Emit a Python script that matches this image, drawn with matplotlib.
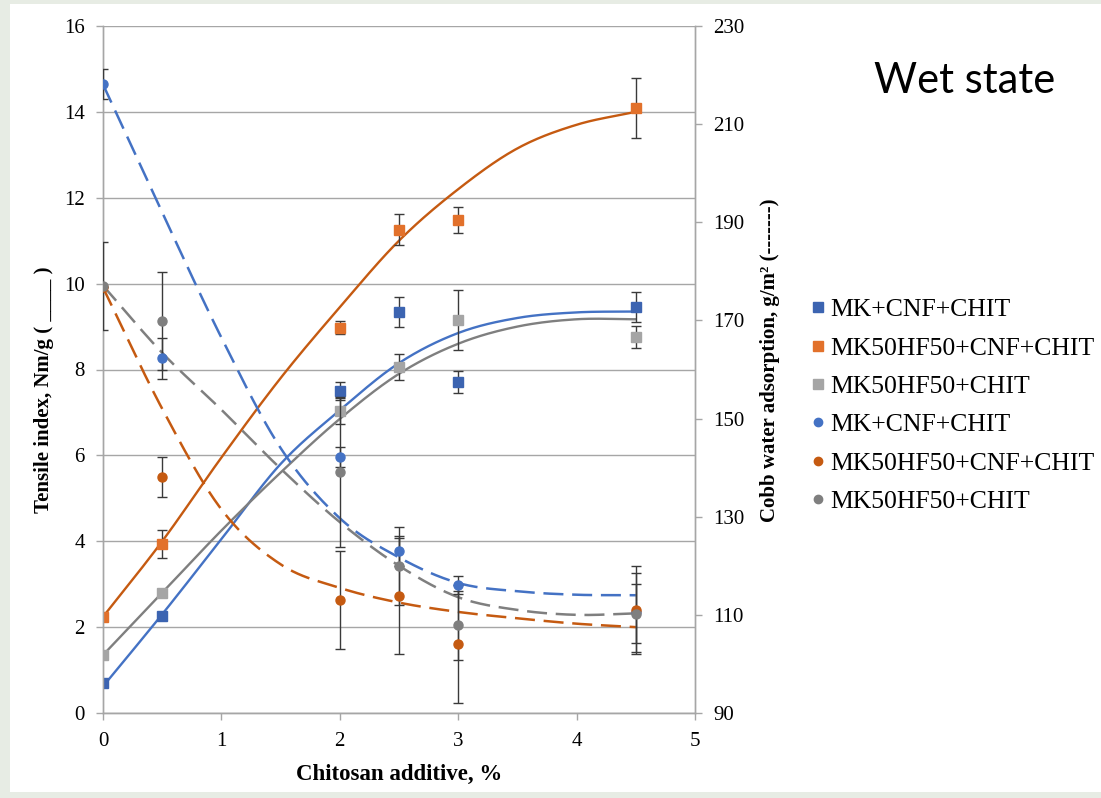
import numpy as np
import matplotlib
matplotlib.use("Agg")
import matplotlib.pyplot as plt
from matplotlib.patches import Rectangle
from matplotlib.lines import Line2D

# ---- data ----
chitosan = [0, 0.5, 2, 2.5, 3, 4.5]

# Tensile index, Nm/g (left axis, squares)
ti_mk_cnf = [0.70, 2.26, 7.50, 9.34, 7.71, 9.45]
ti_mk_cnf_err = [0.0, 0.0, 0.22, 0.34, 0.26, 0.35]
ti_mkhf_cnf = [2.24, 3.94, 8.97, 11.25, 11.48, 14.09]
ti_mkhf_cnf_err = [0.0, 0.32, 0.15, 0.36, 0.30, 0.69]
ti_mkhf = [1.35, 2.79, 7.03, 8.06, 9.15, 8.76]
ti_mkhf_err = [0.0, 0.0, 0.30, 0.31, 0.70, 0.26]

# Cobb water adsorption, g/m2 (right axis, circles)
cobb_mk_cnf = [218.2, 162.3, 142.2, 123.0, 116.1, 110.5]
cobb_mk_cnf_err = [3.0, 4.2, 2.0, 3.0, 1.9, 8.0]
cobb_mkhf_cnf = [176.8, 138.1, 113.0, 113.8, 104.1, 111.0]
cobb_mkhf_cnf_err = [0.0, 4.0, 10.0, 11.8, 12.0, 9.0]
cobb_mkhf = [177.0, 169.9, 139.1, 120.0, 107.9, 110.2]
cobb_mkhf_err = [9.0, 10.0, 15.3, 8.0, 7.0, 6.0]

# Trend lines (solid = tensile, dashed = Cobb)
trend_x = [0, 0.5, 1, 1.5, 2, 2.5, 3, 3.5, 4, 4.5]
trend_ti_mk_cnf = [0.62, 2.30, 4.05, 5.80, 7.05, 8.15, 8.85, 9.20, 9.33, 9.35]
trend_ti_mkhf_cnf = [2.24, 4.00, 5.95, 7.80, 9.45, 11.00, 12.20, 13.15, 13.70, 14.00]
trend_ti_mkhf = [1.35, 2.80, 4.25, 5.60, 6.85, 7.90, 8.60, 9.00, 9.17, 9.17]
trend_cobb_mk_cnf = [218.1, 192.0, 166.5, 144.0, 129.7, 121.7, 116.5, 114.8, 114.1, 114.0]
trend_cobb_mkhf_cnf = [176.7, 152.0, 131.5, 120.3, 115.5, 112.5, 110.6, 109.3, 108.2, 107.5]
trend_cobb_mkhf = [177.1, 163.4, 151.8, 139.8, 128.9, 120.0, 113.6, 111.0, 110.0, 110.3]

labels = ["MK+CNF+CHIT", "MK50HF50+CNF+CHIT", "MK50HF50+CHIT"]

# ---- style ----
sq_cols = ["#3C64B1", "#E2712B", "#A5A5A5"]
ci_cols = ["#4472C4", "#C55A11", "#7F7F7F"]
ln_cols = ["#4472C4", "#C55A11", "#7F7F7F"]
err_col = "#3a3a3a"
serif = ["Liberation Serif", "DejaVu Serif"]


def smooth(xp, yp, n=24):
    """Catmull-Rom rendering of a line through the given points."""
    p = np.column_stack([xp, yp]).astype(float)
    p = np.vstack([2 * p[0] - p[1], p, 2 * p[-1] - p[-2]])
    out = []
    t = np.linspace(0, 1, n, endpoint=False)[:, None]
    for i in range(1, len(p) - 2):
        p0, p1, p2, p3 = p[i - 1], p[i], p[i + 1], p[i + 2]
        seg = 0.5 * (2 * p1 + (-p0 + p2) * t + (2 * p0 - 5 * p1 + 4 * p2 - p3) * t ** 2
                     + (-p0 + 3 * p1 - 3 * p2 + p3) * t ** 3)
        out.append(seg)
    out.append(p[-2][None, :])
    out = np.vstack(out)
    return out[:, 0], out[:, 1]


fig = plt.figure(figsize=(11.01, 7.98), dpi=100)
fig.patch.set_facecolor("#E7ECE4")
fig.patches.append(Rectangle((10 / 1101, 6 / 798), 1 - 10 / 1101, 1 - 10 / 798,
                             transform=fig.transFigure, facecolor="white",
                             edgecolor="none", zorder=-10))

ax = fig.add_axes([103 / 1101, (798 - 713) / 798, 592 / 1101, 687 / 798])
ax.set_facecolor("none")
ax2 = ax.twinx()

x = np.array(chitosan, dtype=float)

ti_sets = [(ti_mk_cnf, ti_mk_cnf_err), (ti_mkhf_cnf, ti_mkhf_cnf_err), (ti_mkhf, ti_mkhf_err)]
cobb_sets = [(cobb_mk_cnf, cobb_mk_cnf_err), (cobb_mkhf_cnf, cobb_mkhf_cnf_err), (cobb_mkhf, cobb_mkhf_err)]
ti_trends = [trend_ti_mk_cnf, trend_ti_mkhf_cnf, trend_ti_mkhf]
cobb_trends = [trend_cobb_mk_cnf, trend_cobb_mkhf_cnf, trend_cobb_mkhf]

for i, tr in enumerate(ti_trends):
    sx, sy = smooth(trend_x, tr)
    ax.plot(sx, sy, color=ln_cols[i], lw=1.7, zorder=3)
for i, (vals, err) in enumerate(ti_sets):
    ax.errorbar(x, vals, yerr=err, fmt="none", ecolor=err_col, elinewidth=1,
                capsize=3.5, capthick=1, zorder=4)
    ax.plot(x, vals, ls="none", marker="s", ms=7, color=sq_cols[i], zorder=5)

for i, tr in enumerate(cobb_trends):
    sx, sy = smooth(trend_x, tr)
    ax2.plot(sx, sy, color=ln_cols[i], lw=1.8, dashes=(8, 3.5), zorder=3)
for i, (vals, err) in enumerate(cobb_sets):
    ax2.errorbar(x, vals, yerr=err, fmt="none", ecolor=err_col, elinewidth=1,
                 capsize=3.5, capthick=1, zorder=4)
    ax2.plot(x, vals, ls="none", marker="o", ms=6.5, color=ci_cols[i], zorder=5)

ax.set_xlim(0, 5)
ax.set_ylim(0, 16)
ax2.set_ylim(90, 230)
ax.set_xticks(range(0, 6))
ax.set_yticks(range(0, 17, 2))
ax2.set_yticks(range(90, 231, 20))
ax.grid(axis="y", color="#A6A6A6", lw=1)
ax.set_axisbelow(True)

for a in (ax, ax2):
    a.spines["top"].set_visible(False)
    for s in ("left", "right", "bottom"):
        a.spines[s].set_color("#A6A6A6")
        a.spines[s].set_linewidth(1)
    a.tick_params(colors="#A6A6A6", length=5, width=1, labelcolor="black", labelsize=15)
    for lab in a.get_xticklabels() + a.get_yticklabels():
        lab.set_fontfamily(serif)
ax.tick_params(axis="y", pad=8)
ax2.tick_params(axis="y", pad=8)
ax.tick_params(axis="x", pad=9)

ax.set_xlabel("Chitosan additive, %", fontsize=16.5, fontweight="bold",
              family=serif)
ax.xaxis.set_label_coords(0.5, -(764 - 713) / 687)
ax.set_ylabel("Tensile index, Nm/g ( ____ )", fontsize=15, fontweight="bold",
              family=serif)
ax.yaxis.set_label_coords(-(103 - 54) / 592, (713 - 390) / 687)
ax2.set_ylabel("Cobb water adsorption, g/m² (-------)", fontsize=15,
               fontweight="bold", family=serif, rotation=90)
ax2.yaxis.set_label_coords((760 - 103) / 592, (713 - 360) / 687)

handles = []
for i in range(3):
    handles.append(Line2D([], [], ls="none", marker="s", ms=7, color=sq_cols[i]))
for i in range(3):
    handles.append(Line2D([], [], ls="none", marker="o", ms=6, color=ci_cols[i]))
fig.legend(handles, labels + labels, loc="upper left",
           bbox_to_anchor=(801 / 1101, 1 - 288 / 798), frameon=False,
           prop={"family": serif, "size": 18.5}, handlelength=0.5,
           handletextpad=0.25, labelspacing=0.6, borderaxespad=0)

fig.text(965 / 1101, 1 - 81 / 798, "Wet state", fontsize=30, family="Lato",
         ha="center", va="center")

fig.savefig("out.png", dpi=100, facecolor=fig.get_facecolor())
